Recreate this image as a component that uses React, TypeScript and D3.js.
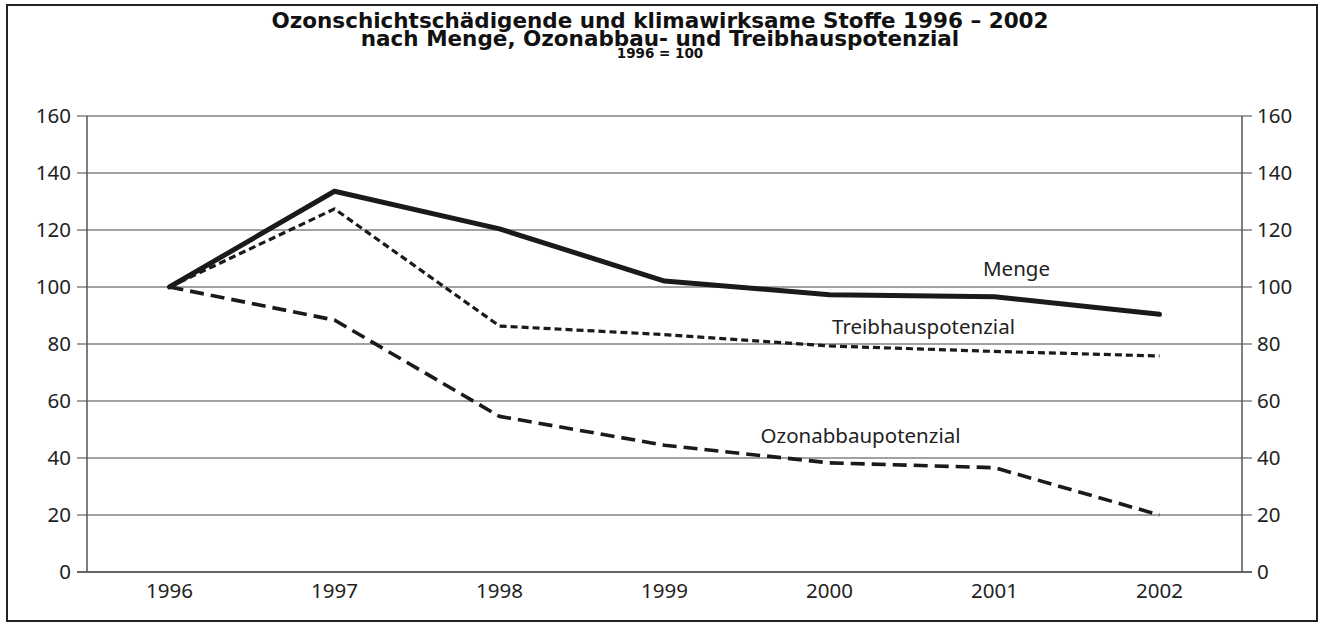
import React from 'react'
import * as d3 from 'd3'

const years = ['1996', '1997', '1998', '1999', '2000', '2001', '2002']
const menge = [100, 133.6, 120.4, 102.1, 97.3, 96.6, 90.4]
const treibhaus = [100, 127.4, 86.3, 83.3, 79.3, 77.4, 75.8]
const ozonabbau = [100, 88.4, 54.6, 44.5, 38.3, 36.6, 20]
const yTicks = [0, 20, 40, 60, 80, 100, 120, 140, 160]
const titleLines = [
  'Ozonschichtschädigende und klimawirksame Stoffe 1996 – 2002',
  'nach Menge, Ozonabbau- und Treibhauspotenzial'
]
const subTitle = '1996 = 100'

const series = [
  { name: 'Menge', values: menge, width: 5, dash: null, label: { year: '2001', dx: 22, y: 104 } },
  { name: 'Treibhauspotenzial', values: treibhaus, width: 3.2, dash: '7,4', label: { year: '2000', dx: 94, y: 83.4 } },
  { name: 'Ozonabbaupotenzial', values: ozonabbau, width: 3.6, dash: '14,7', label: { year: '1999', dx: 196, y: 45.2 } }
]

const W = 1321
const H = 626
const margin = { top: 116, right: 79, bottom: 54, left: 87 }

const App = () => {
  const x = d3.scaleBand()
    .domain(years)
    .range([margin.left, W - margin.right])

  const y = d3.scaleLinear()
    .domain([0, 160])
    .range([H - margin.bottom, margin.top])

  const line = d3.line<number>()
    .x((d, i) => x(years[i])! + x.bandwidth() / 2)
    .y(d => y(d))

  const font = '"Noto Sans", sans-serif'
  const titleFont = '"DejaVu Sans", sans-serif'
  const right = W - margin.right
  const fs = 20.5

  return (
    <svg width={W} height={H} style={{ display: 'block', position: 'absolute', left: 0, top: 0 }} fontFamily={font}>
      <rect x={0} y={0} width={W} height={H} fill='#fff' />
      <rect x={7} y={5} width={1310} height={616} fill='none' stroke='#222' strokeWidth={2} />

      <g fontFamily={titleFont} fontWeight='bold' fill='#111' textAnchor='middle'>
        <text x={660} y={27.5} fontSize={21.5}>{titleLines[0]}</text>
        <text x={660} y={45.5} fontSize={21.5}>{titleLines[1]}</text>
        <text x={660} y={58} fontSize={13.5}>{subTitle}</text>
      </g>

      {yTicks.map(t => (
        <g key={t}>
          <line x1={margin.left - 10} x2={right + 10} y1={y(t)} y2={y(t)} stroke={t === 0 ? '#333' : '#444'} strokeWidth={t === 0 ? 1.5 : 1.2} />
          <text x={margin.left - 16} y={y(t)} dy='0.35em' textAnchor='end' fontSize={fs} fill='#222'>{t}</text>
          <text x={right + 15} y={y(t)} dy='0.35em' textAnchor='start' fontSize={fs} fill='#222'>{t}</text>
        </g>
      ))}
      <line x1={margin.left} x2={margin.left} y1={y(160)} y2={y(0)} stroke='#555' strokeWidth={1.5} />
      <line x1={right} x2={right} y1={y(160)} y2={y(0)} stroke='#555' strokeWidth={1.5} />

      {years.map(yr => (
        <text key={yr} x={x(yr)! + x.bandwidth() / 2} y={y(0) + 26} textAnchor='middle' fontSize={fs} fill='#222'>{yr}</text>
      ))}

      {series.map(s => (
        <path key={s.name} d={line(s.values)!} fill='none' stroke='#1a1a1a' strokeWidth={s.width}
          strokeDasharray={s.dash || undefined} strokeLinejoin='round' strokeLinecap={s.dash ? 'butt' : 'round'} />
      ))}

      {series.map(s => (
        <text key={s.name + '-l'} x={x(s.label.year)! + x.bandwidth() / 2 + s.label.dx} y={y(s.label.y)}
          textAnchor='middle' fontSize={fs} fill='#222'>{s.name}</text>
      ))}
    </svg>
  )
}

export default App
